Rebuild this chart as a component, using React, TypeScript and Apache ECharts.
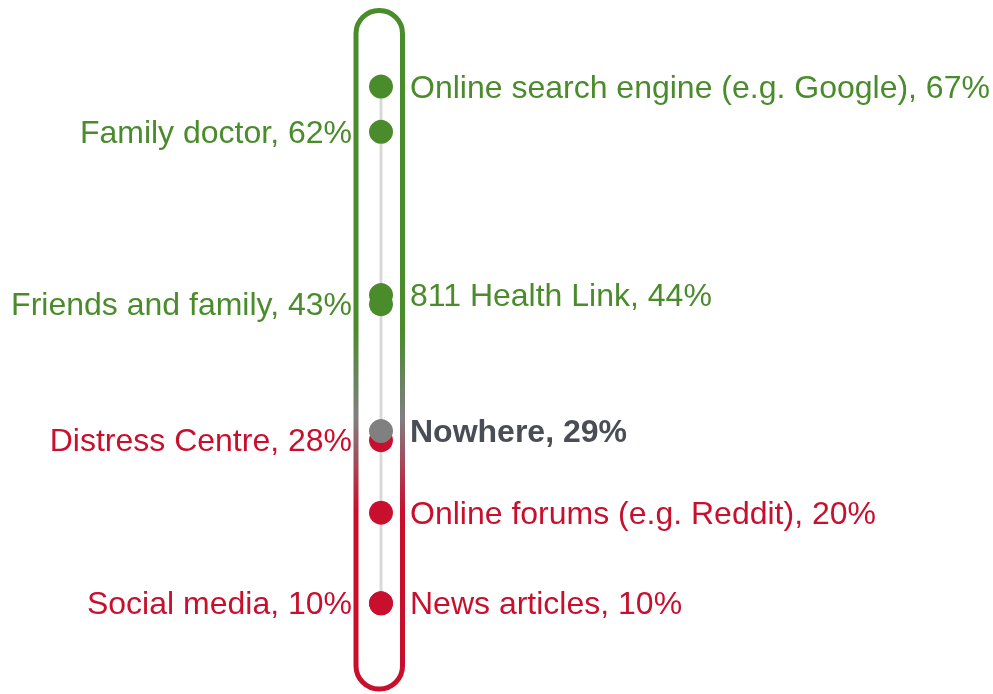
import React, { useEffect, useRef } from "react";
import * as echarts from "echarts";

const labels = [
  "Online search engine (e.g. Google)",
  "Family doctor",
  "811 Health Link",
  "Friends and family",
  "Distress Centre",
  "Nowhere",
  "Online forums (e.g. Reddit)",
  "Social media",
  "News articles",
];
const values = [67, 62, 44, 43, 28, 29, 20, 10, 10];
const sides = ["right", "left", "right", "left", "left", "right", "right", "left", "right"];
const groups = ["good", "good", "good", "good", "bad", "none", "bad", "bad", "bad"];

const GREEN = "#4a8b2c";
const RED = "#c8102e";
const GRAY_DOT = "#808080";
const GRAY_TEXT = "#4a4d55";
const FONT = "'Liberation Sans', Arial, sans-serif";

export default function App() {
  const ref = useRef<HTMLDivElement>(null);
  useEffect(() => {
    if (!ref.current) return;
    const chart = echarts.init(ref.current, null, { renderer: "svg" });
    const colorOf = (g: string) => (g === "good" ? GREEN : g === "bad" ? RED : GRAY_DOT);
    const textColorOf = (g: string) => (g === "good" ? GREEN : g === "bad" ? RED : GRAY_TEXT);
    const data = labels.map((name, i) => ({
      name,
      value: [0, values[i]],
      itemStyle: { color: colorOf(groups[i]), opacity: 1 },
      label: {
        show: true,
        position: sides[i],
        distance: 17,
        formatter: `${name}, ${values[i]}%`,
        color: textColorOf(groups[i]),
        fontWeight: groups[i] === "none" ? "bold" : "normal",
      },
    }));
    const vmax = Math.max(...values);
    const vmin = Math.min(...values);
    chart.setOption({
      animation: false,
      grid: { left: 381, width: 100, top: 14, height: 681 },
      xAxis: { type: "value", min: 0, max: 1, show: false },
      yAxis: { type: "value", min: 0, max: 75, show: false },
      graphic: [
        {
          type: "rect",
          z: 0,
          shape: { x: 356, y: 10.5, width: 46.5, height: 678.5, r: 23 },
          style: {
            fill: "none",
            lineWidth: 5,
            stroke: new echarts.graphic.LinearGradient(0, 0, 0, 1, [
              { offset: 0, color: GREEN },
              { offset: 0.47, color: GREEN },
              { offset: 0.6, color: "#808080" },
              { offset: 0.736, color: RED },
              { offset: 1, color: RED },
            ]),
          },
        },
      ],
      series: [
        {
          type: "line",
          data: [
            [0, vmax],
            [0, vmin],
          ],
          symbol: "none",
          lineStyle: { color: "#d9d9d9", width: 3 },
          z: 1,
          silent: true,
        },
        {
          type: "scatter",
          symbolSize: 24,
          z: 3,
          clip: false,
          itemStyle: { opacity: 1 },
          label: { fontSize: 32, fontFamily: FONT },
          data,
        },
      ],
    });
    return () => chart.dispose();
  }, []);
  return (
    <div
      ref={ref}
      style={{ position: "fixed", left: 0, top: 0, width: 993, height: 694 }}
    />
  );
}
